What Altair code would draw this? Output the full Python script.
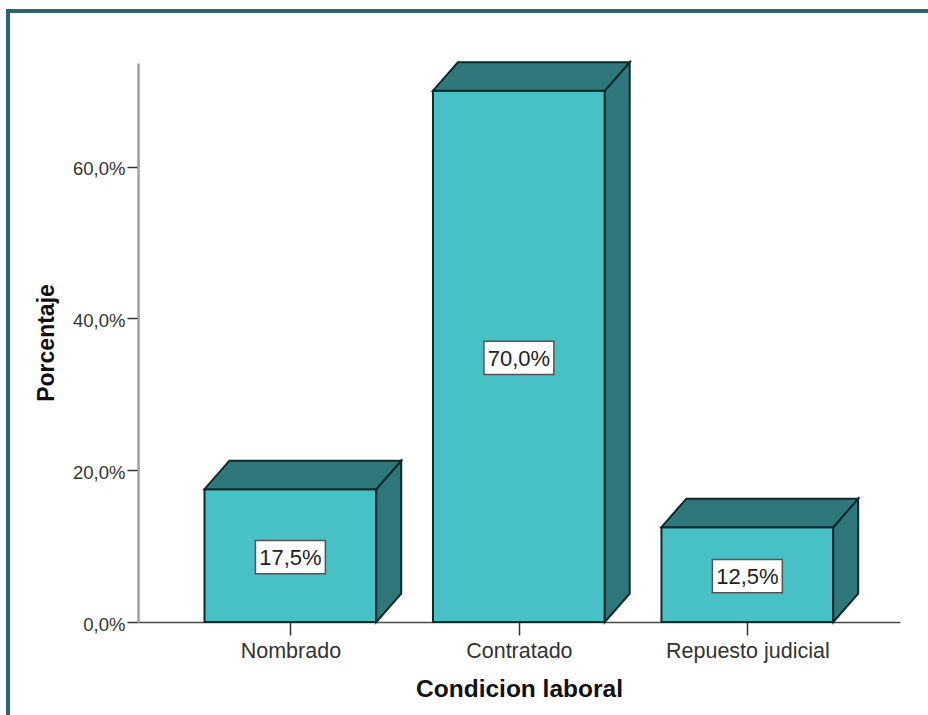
import altair as alt
import pandas as pd

categories = ["Nombrado", "Contratado", "Repuesto judicial"]
percentages = [17.5, 70.0, 12.5]
y_ticks = [0, 20, 40, 60]

# Bar geometry in axis units: slot index on x, percentage points on y
BAR_HALF = 0.376
DEPTH_X = 0.109
DEPTH_Y = 3.75
BOX_HALF_X = 0.153
BOX_HALF_Y = 2.2
BOX_DROP = 0.2

FRONT = "#48C1C6"
SHADE = "#2E777A"
EDGE = "#10292B"
FRAME = "#2B6272"
SANS = "Liberation Sans"

X_SCALE = alt.Scale(domain=[-0.667, 2.668], nice=False, zero=False)
Y_SCALE = alt.Scale(domain=[0, 73.65], nice=False, zero=False)

front_rows, side_rows, top_rows = [], [], []
for i, (cat, v) in enumerate(zip(categories, percentages)):
    left, right = i - BAR_HALF, i + BAR_HALF
    mid = v / 2 - BOX_DROP
    front_rows.append({
        "cat": cat, "x": left, "x2": right, "y": 0, "y2": v, "mid": mid,
        "slot": i, "label": f"{v:.1f}%".replace(".", ","),
        "bx": i - BOX_HALF_X, "bx2": i + BOX_HALF_X,
        "by": mid - BOX_HALF_Y, "by2": mid + BOX_HALF_Y,
    })
    side_rows += [
        {"cat": cat, "x": right, "y": 0, "y2": v},
        {"cat": cat, "x": right + DEPTH_X, "y": DEPTH_Y, "y2": v + DEPTH_Y},
    ]
    top_rows += [
        {"cat": cat, "x": left, "y": v, "y2": v},
        {"cat": cat, "x": left + DEPTH_X, "y": v, "y2": v + DEPTH_Y},
        {"cat": cat, "x": right, "y": v, "y2": v + DEPTH_Y},
        {"cat": cat, "x": right + DEPTH_X, "y": v + DEPTH_Y, "y2": v + DEPTH_Y},
    ]

front_df = pd.DataFrame(front_rows)
side_df = pd.DataFrame(side_rows)
top_df = pd.DataFrame(top_rows)

label_expr = (
    "datum.value == 0 ? '" + categories[0] + "' : datum.value == 1 ? '"
    + categories[1] + "' : '" + categories[2] + "'"
)

x_axis = alt.Axis(
    values=[0, 1, 2], labelExpr=label_expr, title="Condicion laboral",
    grid=False, domainColor="#4A4A4A", domainWidth=1.5, tickColor="#333333",
    tickWidth=1.5, tickSize=13, labelFont=SANS, labelFontSize=21.5,
    labelColor="#333333", labelPadding=5, titleFont=SANS, titleFontSize=24.5,
    titleFontWeight="bold", titleColor="#111111", titlePadding=16,
    labelAngle=0, labelOverlap=False,
)
y_axis = alt.Axis(
    values=y_ticks, labelExpr="replace(format(datum.value, '.1f'), '.', ',') + '%'",
    title="Porcentaje", grid=False, domainColor="#A0A0A0", domainWidth=2.5,
    tickColor="#333333", tickWidth=1.5, tickSize=11, labelFont=SANS,
    labelFontSize=18.5, labelOffset=2, labelColor="#333333", labelPadding=2,
    titleFont=SANS, titleFontSize=23, titleFontWeight="bold", titleColor="#111111",
    titlePadding=14,
)


def xq(field):
    return alt.X(field, scale=X_SCALE, axis=x_axis)


def yq(field):
    return alt.Y(field, scale=Y_SCALE, axis=y_axis)


fronts = alt.Chart(front_df).mark_rect(
    fill=FRONT, stroke=EDGE, strokeWidth=2
).encode(x=xq("x:Q"), x2="x2:Q", y=yq("y:Q"), y2="y2:Q")


def shaded_face(frame):
    return alt.Chart(frame).mark_area(
        fill=SHADE, stroke=EDGE, strokeWidth=2, opacity=1
    ).encode(x=xq("x:Q"), y=yq("y:Q"), y2="y2:Q", detail="cat:N")


boxes = alt.Chart(front_df).mark_rect(
    fill="white", stroke="#555555", strokeWidth=1.5
).encode(x=xq("bx:Q"), x2="bx2:Q", y=yq("by:Q"), y2="by2:Q")

labels = alt.Chart(front_df).mark_text(
    font=SANS, fontSize=22, color="#222222", align="center", baseline="middle", dy=1
).encode(x=xq("slot:Q"), y=yq("mid:Q"), text="label:N")

# Outer panel border, open towards the right and bottom of the page
frame_left = alt.Chart(pd.DataFrame({"k": [0]})).mark_rule(
    color=FRAME, strokeWidth=4
).encode(x=alt.value(-130), y=alt.value(-53), y2=alt.value(652))
frame_top = alt.Chart(pd.DataFrame({"k": [0]})).mark_rule(
    color=FRAME, strokeWidth=4
).encode(y=alt.value(-52), x=alt.value(-132), x2=alt.value(790))

chart = alt.layer(
    frame_left, frame_top, fronts, shaded_face(side_df), shaded_face(top_df), boxes, labels
).properties(
    width=762,
    height=559,
    padding={"left": 138, "top": 63, "right": 28, "bottom": 93},
    autosize=alt.AutoSizeParams(type="none"),
    background="white",
).configure_view(stroke=None)

chart.save("out.html", embed_options={"renderer": "svg", "actions": False})
